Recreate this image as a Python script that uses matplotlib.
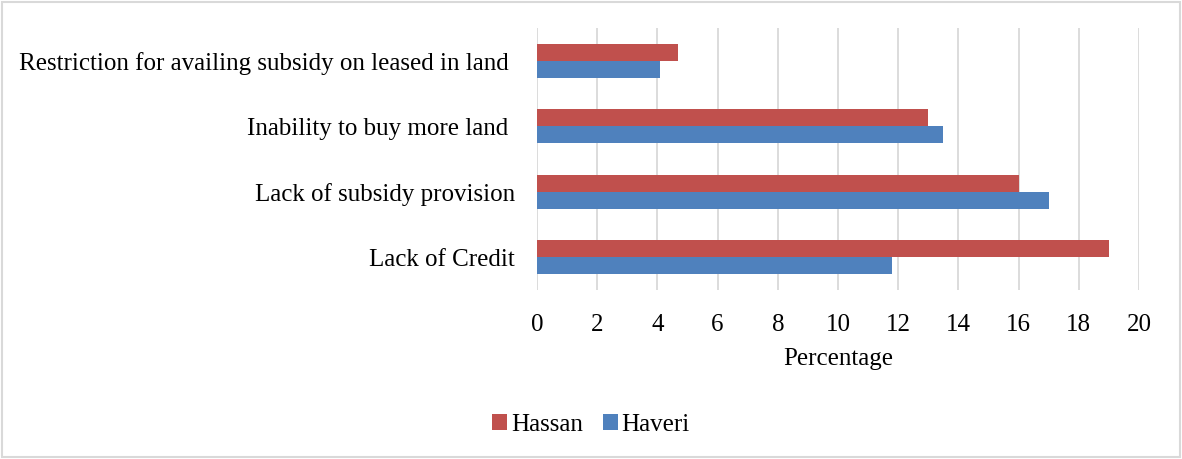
import numpy as np
import matplotlib
matplotlib.use('Agg')
import matplotlib.pyplot as plt
from matplotlib.patches import Rectangle

# Constraints reported by farmers (percentage), bottom to top
categories = ['Lack of Credit', 'Lack of subsidy provision',
              'Inability to buy more land ', 'Restriction for availing subsidy on leased in land ']
hassan = [19.0, 16.0, 13.0, 4.7]
haveri = [11.8, 17.0, 13.5, 4.1]
x_ticks = list(range(0, 21, 2))

plt.rcParams['font.family'] = ['Liberation Serif', 'DejaVu Serif']

fig = plt.figure(figsize=(11.82, 4.59), dpi=100)
ax = fig.add_axes([0.4543, 0.368, 0.5093, 0.571])

y = np.arange(len(categories))
h = 0.26
ax.barh(y - h / 2, haveri, height=h, color='#4F81BD', label='Haveri', zorder=3)
ax.barh(y + h / 2, hassan, height=h, color='#C0504D', label='Hassan', zorder=3)

ax.set_xlim(0, 20)
ax.set_ylim(-0.5, len(categories) - 0.5)
ax.set_xticks(x_ticks)
ax.set_yticks(y)
ax.set_yticklabels(categories)
ax.tick_params(axis='both', length=0, labelsize=18, colors='black')
ax.tick_params(axis='x', pad=17)
ax.tick_params(axis='y', pad=16)
ax.grid(axis='x', color='#d9d9d9', linewidth=1.3, zorder=0)
for s in ax.spines.values():
    s.set_visible(False)
ax.set_xlabel('Percentage', fontsize=18, labelpad=9)

handles, labels = ax.get_legend_handles_labels()
fig.legend(handles[::-1], labels[::-1], loc='center', bbox_to_anchor=(0.5, 0.075),
           ncol=2, frameon=False, fontsize=18, handlelength=0.6, handleheight=0.6,
           handletextpad=0.15, columnspacing=0.8)

# light chart border
fig.patches.append(Rectangle((0.002, 0.004), 0.996, 0.992, transform=fig.transFigure,
                             fill=False, edgecolor='#d9d9d9', linewidth=1.5))

fig.savefig('out.png', dpi=100)
